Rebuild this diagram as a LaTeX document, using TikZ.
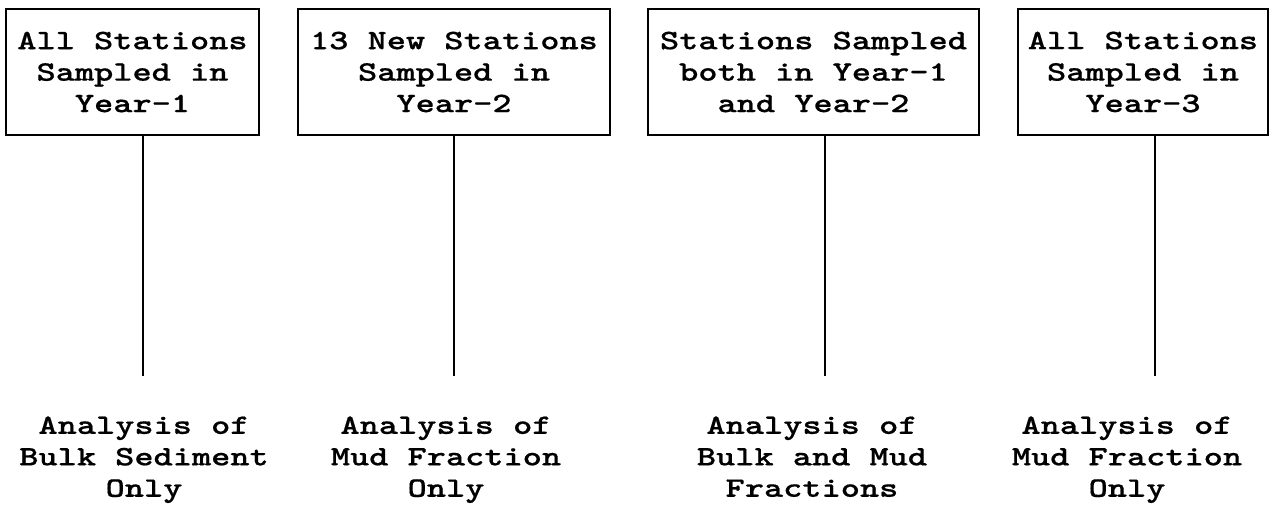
\documentclass[tikz,border=0pt]{standalone}
\usepackage{fontspec}
\newfontfamily\typewriter[FakeStretch=1.3,FakeBold=0.5]{lmmonolt10-bold.otf}

\begin{document}
\begin{tikzpicture}[
    stationbox/.style={draw,line width=1.2pt,align=center,inner sep=0pt,
      minimum height=2.52cm,font=\typewriter\fontsize{16}{17.9}\selectfont},
    analysis/.style={align=center,inner sep=0pt,anchor=north,
      font=\typewriter\fontsize{16}{17.9}\selectfont}]
    \useasboundingbox (0,0) rectangle (25.42,-10.1);
    \node[stationbox,minimum width=5.06cm] (s1) at (2.65,-1.44) {All Stations\\Sampled in\\Year-1};
    \node[stationbox,minimum width=6.24cm] (s2) at (9.08,-1.44) {13 New Stations\\Sampled in\\Year-2};
    \node[stationbox,minimum width=6.62cm] (s3) at (16.27,-1.44) {Stations Sampled\\both in Year-1\\and Year-2};
    \node[stationbox,minimum width=5.0cm] (s4) at (22.86,-1.44) {All Stations\\Sampled in\\Year-3};
    \foreach \x/\n in {2.86/1,9.08/2,16.5/3,23.1/4}{
      \coordinate (e\n) at (\x,-7.52);
      \draw[line width=1.2pt] (e\n |- s\n.south) -- (e\n);
    }
    \node[analysis] (a1) at (2.88,-8.32) {Analysis of\\Bulk Sediment\\Only};
    \node[analysis] (a2) at (8.92,-8.32) {Analysis of\\Mud Fraction\\Only};
    \node[analysis] (a3) at (16.24,-8.32) {Analysis of\\Bulk and Mud\\Fractions};
    \node[analysis] (a4) at (22.54,-8.32) {Analysis of\\Mud Fraction\\Only};
\end{tikzpicture}
\end{document}
